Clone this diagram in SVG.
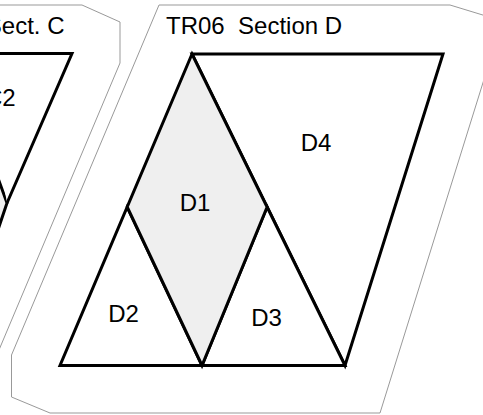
<svg xmlns="http://www.w3.org/2000/svg" width="483" height="415" viewBox="0 0 483 415">
<style>
.outline{fill:none;stroke:#999;stroke-width:1}
.piece{fill:#fff;stroke:#000;stroke-width:3;stroke-linejoin:miter}
.shaded{fill:#efefef}
.lbl{font-family:"Liberation Sans",Arial,sans-serif;font-size:24px;fill:#000}
.mid{text-anchor:middle}
.title{white-space:pre}
</style>
<rect x="0" y="0" width="483" height="415" fill="#fff"/>
<g id="sectionC">
<polygon class="outline" points="-20,5 82,5 120,22 120,63 -12,376 -20,376"/>
<text class="lbl" x="64.5" y="34" text-anchor="end">Sect. C</text>
</g>
<g id="C1">
<polygon class="piece shaded" points="-20,128 7,203 -20,283"/>
</g>
<g id="C2">
<polyline class="piece" points="-20,53.5 72,53.5 7,203" fill="none"/>
<text class="lbl" x="15.7" y="106" text-anchor="end">C2</text>
</g>
<g id="sectionD">
<polygon class="outline" points="159,5 450,5 486,16 486,73 380,413 50,413 11.5,397 11.5,355"/>
<text class="lbl title" x="166" y="34">TR06  Section D</text>
</g>
<g id="D4">
<polygon class="piece" points="192,54 443,54 345,365.5 267.1,207"/>
<text class="lbl mid" x="316" y="150.5">D4</text>
</g>
<g id="D2">
<polygon class="piece" points="127.2,207 202,365.5 60,365.5"/>
<text class="lbl mid" x="123.5" y="322">D2</text>
</g>
<g id="D3">
<polygon class="piece" points="267.1,207 345,365.5 202,365.5"/>
<text class="lbl mid" x="266.5" y="326">D3</text>
</g>
<g id="D1">
<polygon class="piece shaded" points="192,54 267.1,207 202,365.5 127.2,207"/>
<text class="lbl mid" x="195" y="211">D1</text>
</g>
<g id="connectors"></g>
</svg>
